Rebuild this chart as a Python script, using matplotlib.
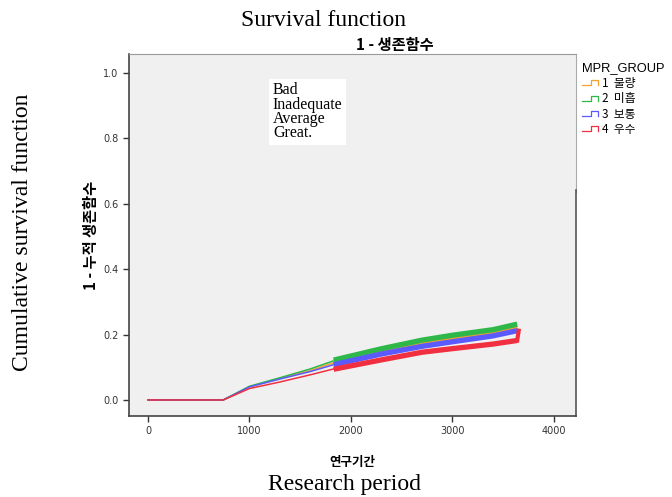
import matplotlib
matplotlib.use("Agg")
import matplotlib.pyplot as plt
from matplotlib.lines import Line2D
from matplotlib.legend_handler import HandlerBase

# cumulative incidence (1 - survival)
days_early = [0, 741, 1000, 1300, 1600, 1830]
days_late = [1830, 2290, 2700, 3000, 3400, 3640]

groups = ["1  불량", "2  미흡", "3  보통", "4  우수"]
colors = ["#f5a030", "#2eb84a", "#5a5aff", "#f03040"]

early = {
    "1  불량": [0, 0, 0.040, 0.066, 0.090, 0.114],
    "2  미흡": [0, 0, 0.042, 0.068, 0.095, 0.120],
    "3  보통": [0, 0, 0.040, 0.064, 0.087, 0.108],
    "4  우수": [0, 0, 0.035, 0.055, 0.077, 0.095],
}
late = {
    "1  불량": [0.115, 0.148, 0.173, 0.190, 0.207, 0.224],
    "2  미흡": [0.122, 0.156, 0.183, 0.198, 0.215, 0.232],
    "3  보통": [0.108, 0.140, 0.164, 0.178, 0.196, 0.212],
    "4  우수": [0.094, 0.122, 0.146, 0.157, 0.171, 0.182],
}
# red group has a last jump at the end
red_end_days = [3640, 3655]
red_end_vals = [0.182, 0.212]

annot = "Bad\nInadequate\nAverage\nGreat."

kr = ["Noto Sans CJK KR", "DejaVu Sans"]
serif = ["Liberation Serif", "DejaVu Serif"]


class StepHandler(HandlerBase):
    def create_artists(self, legend, orig, xd, yd, w, h, fontsize, trans):
        xs = [0, 0.55 * w, 0.55 * w, w, w]
        ys = [0.2 * h, 0.2 * h, 0.8 * h, 0.8 * h, 0.2 * h]
        ln = Line2D(xs, ys, color=orig.get_color(), lw=0.9, transform=trans)
        return [ln]


fig = plt.figure(figsize=(6.72, 4.97), dpi=100)
ax = fig.add_axes([0.192, 0.163, 0.665, 0.728])
ax.set_facecolor("#f0f0f0")

handles = []
for g, c in zip(groups, colors):
    ax.plot(days_early, early[g], color=c, lw=1.1, zorder=2)
    ax.plot(days_late, late[g], color=c, lw=3.8, zorder=3, solid_capstyle="butt")
    handles.append(Line2D([], [], color=c, lw=1))
ax.plot(red_end_days, red_end_vals, color=colors[3], lw=3, zorder=3)

ax.set_xlim(-188, 4219)
ax.set_ylim(-0.049, 1.058)
ax.set_xticks([0, 1000, 2000, 3000, 4000])
ax.set_yticks([0.0, 0.2, 0.4, 0.6, 0.8, 1.0])
ax.set_yticklabels(["0.0", "0.2", "0.4", "0.6", "0.8", "1.0"])
ax.tick_params(labelsize=7, length=4, width=1, colors="#333333",
               labelcolor="#333333")
for s in ["left", "bottom"]:
    ax.spines[s].set_color("#444444")
    ax.spines[s].set_linewidth(1.2)
ax.spines["top"].set_color("#999999")
ax.spines["top"].set_linewidth(0.8)
ax.spines["right"].set_color("#555555")
ax.spines["right"].set_linewidth(1.2)
ax.spines["right"].set_bounds(-0.049, 0.642)
ax.axvline(4219, color="#aaaaaa", lw=0.8, ymin=0.62, ymax=1, clip_on=False)

ax.set_title("1 - 생존함수", family=kr, fontsize=11, fontweight="bold",
             x=0.595, pad=3)
ax.set_ylabel("1 - 누적 생존함수", family=kr, fontsize=11, fontweight="bold",
              labelpad=3)
ax.set_xlabel("연구기간", family=kr, fontsize=9, fontweight="bold",
              labelpad=14)

ax.text(0.322, 0.922, annot, transform=ax.transAxes, family=serif,
        fontsize=11.5, va="top", ha="left", linespacing=0.85,
        bbox=dict(facecolor="white", edgecolor="none", pad=2.5))

leg = ax.legend(handles, groups, title="MPR_GROUP", loc="upper left",
                bbox_to_anchor=(0.995, 1.0), frameon=False,
                handler_map={Line2D: StepHandler()},
                prop={"family": kr, "size": 8.5}, handlelength=1.4,
                handletextpad=0.3, labelspacing=0.2, borderaxespad=0.3,
                alignment="left")
leg.get_title().set_fontsize(9.3)
leg.get_title().set_family(["Liberation Sans", "DejaVu Sans"])

fig.text(0.482, 0.958, "Survival function", family=serif, fontsize=17,
         ha="center", va="center")
fig.text(0.512, 0.026, "Research period", family=serif, fontsize=17,
         ha="center", va="center")
fig.text(0.033, 0.533, "Cumulative survival function", family=serif,
         fontsize=17, ha="center", va="center", rotation=90)

fig.savefig("out.png", dpi=100)
